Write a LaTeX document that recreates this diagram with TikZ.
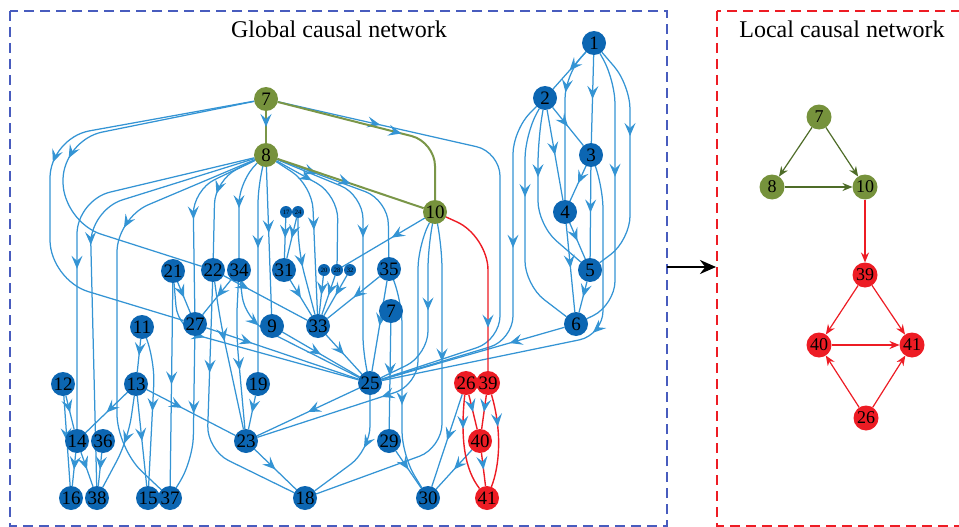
\documentclass[tikz,border=0pt]{standalone}
\usepackage{fontspec}
\setmainfont{Liberation Serif}
\usetikzlibrary{arrows.meta,decorations.markings}

\definecolor{nblue}{RGB}{12,102,178}
\definecolor{eblue}{RGB}{52,148,212}
\definecolor{ngreen}{RGB}{118,146,60}
\definecolor{egreen}{RGB}{122,150,72}
\definecolor{lgreen}{RGB}{78,108,40}
\definecolor{nred}{RGB}{237,28,36}
\definecolor{boxblue}{RGB}{72,92,190}

\pgfdeclarelayer{edges}
\pgfsetlayers{edges,main}

\begin{document}
\begin{tikzpicture}[x=1pt,y=-1pt]
\tikzset{ >=latex, inner sep=0pt, outer sep=0pt,
  gn/.style={circle, fill=nblue, minimum size=24pt, font=\fontsize{19}{19}\selectfont},
  sn/.style={circle, fill=nblue, minimum size=12pt, font=\fontsize{6.5}{6.5}\selectfont},
  grn/.style={gn, fill=ngreen},
  rdn/.style={gn, fill=nred},
  ln/.style={circle, minimum size=25pt, font=\fontsize{18}{18}\selectfont},
  bEdge/.style={draw=eblue, line width=1.25pt, rounded corners=24pt, postaction={decorate},
    decoration={markings, mark=at position #1 with {\arrow{Stealth[length=13pt,width=11pt,inset=5pt,color=eblue]}}}},
  bEdge/.default=0.5,
  gEdge/.style={bEdge=#1, draw=egreen, line width=2pt},
  gEdge/.default=0.5,
  rEdge/.style={bEdge=#1, draw=nred, line width=1.4pt},
  rEdge/.default=0.5,
  lgEdge/.style={draw=lgreen, line width=1.2pt, -{Stealth[length=10pt,width=8pt]}},
  lrEdge/.style={draw=nred, line width=1.2pt, -{Stealth[length=10pt,width=8pt]}},
}

\useasboundingbox (0,0) rectangle (959,527);

%%% Caixas
\draw[boxblue, line width=1.3pt, dash pattern=on 10pt off 6pt] (10,11) rectangle (667,526);
\draw[nred, line width=1.1pt, dash pattern=on 10pt off 6pt] (717,11) rectangle (980,526);
\node[font=\fontsize{24}{24}\selectfont] (GTit) at (339,29) {Global causal network};
\node[font=\fontsize{24}{24}\selectfont] (LTit) at (842,29) {Local causal network};

%%% Rede global

% grupo 1..6
\node[gn] (G1) at (594,43) {1};
\node[gn] (G2) at (545,98) {2};
\node[gn] (G3) at (591,155) {3};
\node[gn] (G4) at (565,212) {4};
\node[gn] (G5) at (590,270) {5};
\node[gn] (G6) at (576,324) {6};

% verdes
\node[grn] (G7) at (266,99) {7};
\node[grn] (G8) at (266,155) {8};
\node[grn] (G10) at (435,212) {10};

% pequenos
\node[sn] (G17) at (286,212) {17};
\node[sn] (G24) at (298,212) {24};
\node[sn] (G20) at (324,270) {20};
\node[sn] (G28) at (337,270) {28};
\node[sn] (G32) at (350,270) {32};

% meio
\node[gn] (G21) at (173,271) {21};
\node[gn] (G22) at (213,270) {22};
\node[gn] (G34) at (239,270) {34};
\node[gn] (G31) at (284,270) {31};
\node[gn] (G35) at (389,269) {35};
\node[gn] (G27) at (195,324) {27};
\node[gn] (G9) at (272,326) {9};
\node[gn] (G33) at (318,326) {33};
\node[gn] (G7b) at (391,311) {7};
\node[gn] (G11) at (142,327) {11};
\node[gn] (G12) at (63,384) {12};
\node[gn] (G13) at (136,384) {13};
\node[gn] (G19) at (258,384) {19};
\node[gn] (G25) at (370,383) {25};
\node[rdn] (G26) at (466,383) {26};
\node[rdn] (G39) at (488,383) {39};
\node[gn] (G14) at (77,441) {14};
\node[gn] (G36) at (103,441) {36};
\node[gn] (G23) at (246,441) {23};
\node[gn] (G29) at (389,441) {29};
\node[rdn] (G40) at (480,441) {40};
\node[gn] (G16) at (71,498) {16};
\node[gn] (G38) at (97,498) {38};
\node[gn] (G15) at (148,498) {15};
\node[gn] (G37) at (170,498) {37};
\node[gn] (G18) at (305,498) {18};
\node[gn] (G30) at (428,498) {30};
\node[rdn] (G41) at (487,498) {41};

\begin{pgfonlayer}{edges}
% saidas de 7
\draw[bEdge=0.47, rounded corners=40pt] (G7) -- (50,138) -- (50,280) -- (G27);
\draw[bEdge=0.5, rounded corners=40pt] (G7) -- (63,140) -- (63,222) -- (G22);
\draw[bEdge=0.2] (G7) -- (500,152) -- (500,340) -- (G25);

% saidas de 8
\draw[bEdge=0.6, rounded corners=34pt] (G8) -- (77,200) -- (G14);
\draw[bEdge=0.45, rounded corners=34pt] (G8) -- (90,210) -- (G38);
\draw[bEdge=0.35, rounded corners=34pt] (G8) -- (117,218) -- (117,448) -- (G37);
\draw[bEdge=0.5] (G8) -- (193,190) -- (G27);
\draw[bEdge=0.45] (G8) -- (215,180) -- (G22);
\draw[bEdge=0.5] (G8) -- (239,180) -- (G34);
\draw[bEdge=0.45] (G8) -- (258,180) -- (G19);
\draw[bEdge=0.45] (G8) -- (G9);
\draw[bEdge=0.5] (G8) -- (312,185) -- (G33);
\draw[bEdge=0.3] (G8) -- (338,195) -- (G28);
\draw[bEdge=0.45] (G8) -- (363,195) -- (363,360) -- (G25);
\draw[bEdge=0.25] (G8) -- (388,200) -- (G35);

% saidas de 10
\draw[bEdge=0.4] (G10) -- (G28);
\draw[bEdge=0.6] (G10) -- (418,245) -- (418,385) -- (G23);
\draw[bEdge=0.5] (G10) -- (428,245) -- (428,355) -- (G25);
\draw[bEdge=0.4] (G10) -- (442,245) -- (442,448) -- (G18);

% pequenos -> 31, 33
\draw[bEdge] (G17) -- (G31);
\draw[bEdge] (G24) -- (G31);
\draw[bEdge] (G24) -- (298,250) -- (G33);
\draw[bEdge] (G31) -- (G33);
\draw[bEdge] (G20) -- (G33);
\draw[bEdge] (G28) -- (G33);
\draw[bEdge] (G32) -- (G33);
\draw[bEdge] (G35) -- (G33);
\draw[bEdge] (G35) -- (G25);
\draw[bEdge=0.6] (G35) -- (402,300) -- (402,455) -- (G30);
\draw[bEdge] (G7b) -- (G29);

% meio
\draw[bEdge] (G21) -- (G27);
\draw[bEdge] (G21) -- (G37);
\draw[bEdge=0.3] (G21) -- (178,330) -- (G25);
\draw[bEdge=0.3] (G22) -- (G33);
\draw[bEdge=0.4] (G22) -- (220,320) -- (G23);
\draw[bEdge=0.35] (G22) -- (207,450) -- (G18);
\draw[bEdge] (G34) -- (G27);
\draw[bEdge=0.6] (G34) -- (236,330) -- (G23);
\draw[bEdge=0.3] (G34) -- (245,320) -- (G25);
\draw[bEdge=0.3] (G27) -- (G25);
\draw[bEdge=0.5] (G27) -- (193,460) -- (G37);
\draw[bEdge] (G9) -- (G25);
\draw[bEdge] (G33) -- (G25);
\draw[bEdge] (G19) -- (G23);
\draw[bEdge] (G25) -- (G23);
\draw[bEdge] (G23) -- (G18);
\draw[bEdge=0.45] (G25) -- (370,450) -- (G18);
\draw[bEdge] (G29) -- (G30);
\draw[bEdge=0.4] (G13) -- (G23);
\draw[bEdge] (G26) -- (G30);
\draw[bEdge] (G40) -- (G30);

% esquerda
\draw[bEdge] (G11) -- (G13);
\draw[bEdge] (G11) -- (155,360) -- (G15);
\draw[bEdge] (G12) -- (G14);
\draw[bEdge] (G12) -- (G16);
\draw[bEdge] (G13) -- (G14);
\draw[bEdge] (G13) -- (128,440) -- (G38);
\draw[bEdge] (G13) -- (G15);
\draw[bEdge] (G14) -- (G16);
\draw[bEdge] (G14) -- (G38);
\draw[bEdge] (G36) -- (G38);

% grupo 1..6
\draw[bEdge] (G1) -- (G2);
\draw[bEdge] (G1) -- (G3);
\draw[bEdge=0.3] (G1) -- (565,75) -- (G4);
\draw[bEdge=0.45] (G1) -- (615,80) -- (615,305) -- (G6);
\draw[bEdge=0.4] (G1) -- (630,85) -- (630,240) -- (G5);
\draw[bEdge] (G2) -- (G3);
\draw[bEdge] (G2) -- (G4);
\draw[bEdge=0.4] (G2) -- (538,140) -- (538,225) -- (G5);
\draw[bEdge=0.4] (G2) -- (525,135) -- (525,285) -- (G6);
\draw[bEdge=0.4] (G2) -- (513,130) -- (513,340) -- (G25);
\draw[bEdge] (G3) -- (G4);
\draw[bEdge] (G3) -- (G5);
\draw[bEdge=0.45] (G3) -- (603,185) -- (603,335) -- (G25);
\draw[bEdge] (G4) -- (G5);
\draw[bEdge] (G4) -- (G6);
\draw[bEdge] (G5) -- (G6);
\draw[bEdge=0.3] (G6) -- (G25);

% caminho causal
\draw[gEdge] (G7) -- (G8);
\draw[gEdge=0.6] (G7) -- (435,142) -- (G10);
\draw[gEdge] (G8) -- (G10);
\draw[rEdge=0.75, rounded corners=34pt] (G10) -- (488,236) -- (G39);
\draw[rEdge] (G39) -- (G40);
\draw[rEdge=0.35] (G39) .. controls (502,430) and (500,465) .. (G41);
\draw[rEdge=0.35] (G26) .. controls (460,440) and (465,470) .. (G41);
\draw[rEdge] (G26) -- (G40);
\draw[rEdge] (G40) -- (G41);
\end{pgfonlayer}

% seta global -> local
\coordinate (AR0) at (667,267);
\coordinate (AR1) at (716,267);
\draw[line width=2.4pt, -{Stealth[length=16pt,width=14pt]}] (AR0) -- (AR1);

%%% Rede local
\node[ln, fill=ngreen] (L7) at (819,117) {7};
\node[ln, fill=ngreen] (L8) at (772,187) {8};
\node[ln, fill=ngreen] (L10) at (865,187) {10};
\node[ln, fill=nred] (L39) at (865,275) {39};
\node[ln, fill=nred] (L40) at (819,345) {40};
\node[ln, fill=nred] (L41) at (912,345) {41};
\node[ln, fill=nred] (L26) at (866,418) {26};

\draw[lgEdge] (L7) -- (L8);
\draw[lgEdge] (L7) -- (L10);
\draw[lgEdge] (L8) -- (L10);
\draw[lrEdge] (L10) -- (L39);
\draw[lrEdge] (L39) -- (L40);
\draw[lrEdge] (L39) -- (L41);
\draw[lrEdge] (L40) -- (L41);
\draw[lrEdge] (L26) -- (L40);
\draw[lrEdge] (L26) -- (L41);

\end{tikzpicture}
\end{document}
